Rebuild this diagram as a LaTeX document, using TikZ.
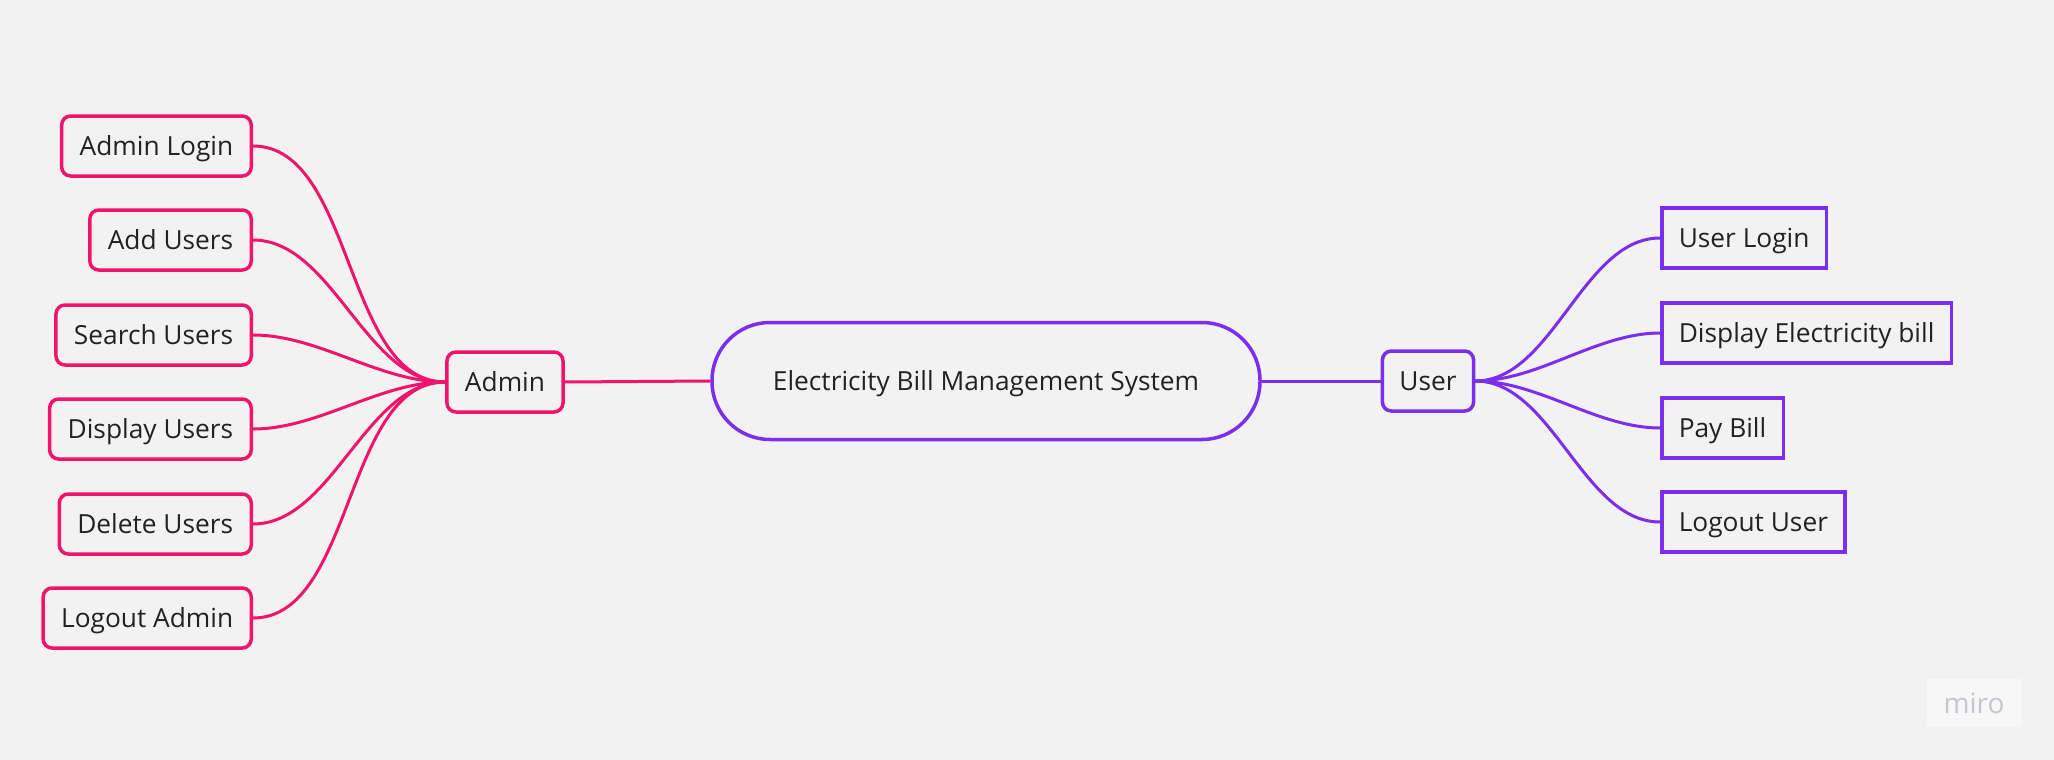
\documentclass[tikz,border=0pt]{standalone}
\usepackage{fontspec}
\setmainfont{Open Sans}

\definecolor{boardgray}{HTML}{F2F2F2}
\definecolor{adminpink}{HTML}{F0146E}
\definecolor{userpurple}{HTML}{7B2EEB}
\definecolor{inkgray}{HTML}{222222}
\definecolor{logogray}{HTML}{C6C6CE}

\tikzset{
  label font/.style={text=inkgray, font=\fontsize{26.3}{31}\selectfont,
    text height=23.7pt, text depth=5pt},
  adminbox/.style={label font, draw=adminpink, line width=3.5pt, rounded corners=9pt,
    minimum height=60pt, inner xsep=18pt},
  userbox/.style={label font, draw=userpurple, line width=3.5pt,
    minimum height=60pt, inner xsep=17pt},
  adminline/.style={draw=adminpink, line width=3pt},
  userline/.style={draw=userpurple, line width=3pt},
  branch/.style={out=0, in=180, looseness=0.85}
}

\begin{document}
\begin{tikzpicture}[x=1pt, y=-1pt]

% Board
\fill[boardgray] (0,0) rectangle (2054,760);
\useasboundingbox (0,0) rectangle (2054,760);

% Central topic
\node[label font, draw=userpurple, line width=3.5pt, rounded corners=58pt,
  minimum width=548pt, minimum height=117pt] (system) at (986,381)
  {Electricity Bill Management System};

% Admin side
\node[adminbox] (admin) at (505,382) {Admin};
\node[adminbox, anchor=east] (alogin) at (253,146) {Admin Login};
\node[adminbox, anchor=east] (addusers) at (253,240) {Add Users};
\node[adminbox, anchor=east] (searchusers) at (253,335) {Search Users};
\node[adminbox, anchor=east] (displayusers) at (253,429) {Display Users};
\node[adminbox, anchor=east] (deleteusers) at (253,524) {Delete Users};
\node[adminbox, anchor=east] (alogout) at (253,618) {Logout Admin};

% User side
\node[userbox, rounded corners=9pt] (user) at (1428,381) {User};
\node[userbox, anchor=west] (ulogin) at (1660,238) {User Login};
\node[userbox, anchor=west] (displaybill) at (1660,333) {Display Electricity bill};
\node[userbox, anchor=west] (paybill) at (1660,428) {Pay Bill};
\node[userbox, anchor=west] (ulogout) at (1660,522) {Logout User};

% Trunks
\draw[adminline] (admin.east) -- (system.west);
\draw[userline] (system.east) -- (user.west);

% Admin branches
\draw[adminline] (alogin.east) to[branch] (admin.west);
\draw[adminline] (addusers.east) to[branch] (admin.west);
\draw[adminline] (searchusers.east) to[branch] (admin.west);
\draw[adminline] (displayusers.east) to[branch] (admin.west);
\draw[adminline] (deleteusers.east) to[branch] (admin.west);
\draw[adminline] (alogout.east) to[branch] (admin.west);

% User branches
\draw[userline] (user.east) to[branch] (ulogin.west);
\draw[userline] (user.east) to[branch] (displaybill.west);
\draw[userline] (user.east) to[branch] (paybill.west);
\draw[userline] (user.east) to[branch] (ulogout.west);

% Watermark
\node[fill=boardgray!60!white, text=logogray, font=\fontsize{28}{32}\selectfont,
  minimum width=95pt, minimum height=48pt] (miro) at (1974,703) {miro};

\end{tikzpicture}
\end{document}
